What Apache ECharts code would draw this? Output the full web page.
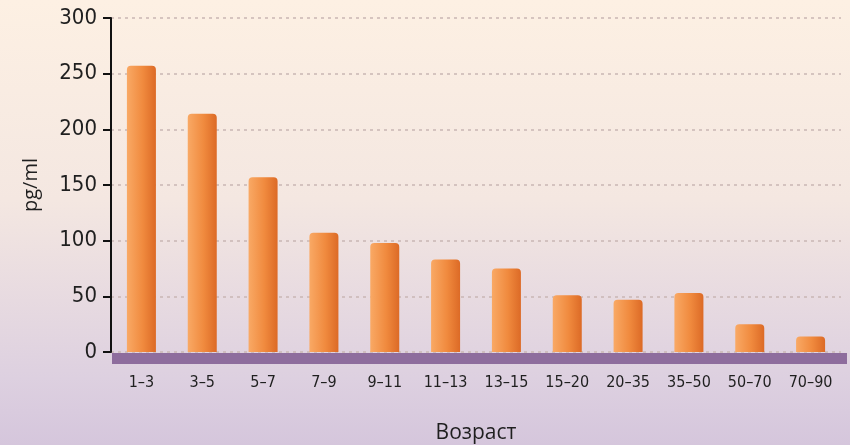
<!DOCTYPE html>
<html>
<head>
<meta charset="utf-8">
<script src="https://cdn.jsdelivr.net/npm/echarts@6/dist/echarts.min.js"></script>
<style>
  html, body { margin: 0; padding: 0; }
  #chart { width: 850px; height: 445px;
    background: linear-gradient(180deg, #fdf0e3 0%, #f4e7e1 45%, #ddd0e0 85%, #d5c6dc 100%); }
</style>
</head>
<body>
<div id="chart"></div>
<script>
// Age groups (years) and mean concentration, pg/ml
const ageGroups = ['1–3', '3–5', '5–7', '7–9', '9–11', '11–13', '13–15', '15–20', '20–35', '35–50', '50–70', '70–90'];
const concentration = [257, 214, 157, 107, 98, 83, 75, 51, 47, 53, 25, 14];
const yTicks = [0, 50, 100, 150, 200, 250, 300];

const condensed = '"DejaVu Sans Condensed", "Liberation Sans Narrow", "Liberation Sans", sans-serif';
const textColor = '#1f1f1f';

const chart = echarts.init(document.getElementById('chart'), null, { renderer: 'canvas' });

const barFill = new echarts.graphic.LinearGradient(0, 0, 1, 0, [
  { offset: 0, color: '#f9a965' },
  { offset: 0.55, color: '#f08a3e' },
  { offset: 1, color: '#dc6a26' }
]);

chart.setOption({
  animation: false,
  grid: { left: 111, right: 9, top: 18, bottom: 93, containLabel: false, outerBoundsMode: 'none' },
  xAxis: {
    type: 'category',
    data: ageGroups,
    name: 'Возраст',
    nameLocation: 'middle',
    nameGap: 71,
    nameTextStyle: { fontFamily: '"Open Sans", "Noto Sans", sans-serif', fontSize: 21, color: textColor },
    axisLine: { show: false },
    axisTick: { show: false },
    axisLabel: { fontFamily: condensed, fontSize: 16, color: textColor, margin: 23 }
  },
  yAxis: {
    type: 'value',
    min: 0,
    max: yTicks[yTicks.length - 1],
    interval: yTicks[1] - yTicks[0],
    name: 'pg/ml',
    nameLocation: 'middle',
    nameGap: 70,
    nameRotate: 90,
    nameTextStyle: { fontFamily: '"Open Sans", "Noto Sans", sans-serif', fontSize: 20, color: textColor },
    axisLine: { show: true, onZero: false, lineStyle: { color: '#111', width: 2 } },
    axisTick: { show: true, length: 8, lineStyle: { color: '#111', width: 2 } },
    axisLabel: { fontFamily: condensed, fontSize: 22, color: textColor, margin: 14 },
    splitLine: { show: true, lineStyle: { color: '#c9b6b4', type: [3, 4], width: 1.5 } }
  },
  series: [{
    type: 'bar',
    data: concentration,
    barWidth: 29,
    itemStyle: { color: barFill, borderRadius: [4, 4, 0, 0] },
    z: 3
  }]
});

// Purple base band under the bars, spanning the plot width
const zeroY = chart.convertToPixel({ yAxisIndex: 0 }, 0);
chart.setOption({
  graphic: [{
    type: 'rect',
    shape: { x: 112, y: zeroY + 1, width: 735, height: 11 },
    style: { fill: '#8e6d9d' },
    z: 10
  }]
});
</script>
</body>
</html>
